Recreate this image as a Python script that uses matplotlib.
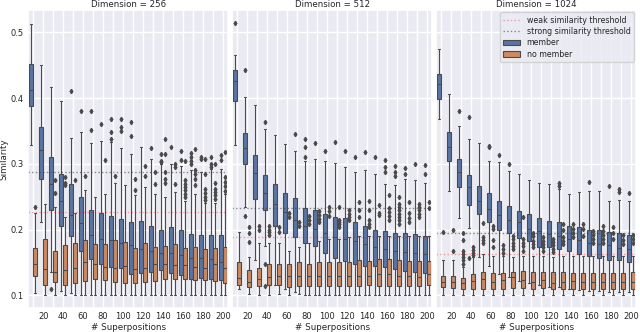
import matplotlib
matplotlib.use("Agg")
import numpy as np
import matplotlib.pyplot as plt
from matplotlib.lines import Line2D
from matplotlib.patches import Patch
import seaborn as sns

n_sup = list(range(10, 210, 10))
tick_labels = [str(n) if n % 20 == 0 else "" for n in n_sup]
dims = [256, 512, 1024]

weak_thr = [0.226, 0.189, 0.163]
strong_thr = [0.288, 0.2335, 0.195]

# ---- dimension 256 ----
m256_hi = [0.513, 0.450, 0.417, 0.395, 0.339, 0.348, 0.332, 0.335, 0.333, 0.324,
           0.315, 0.325, 0.308, 0.299, 0.300, 0.297, 0.290, 0.287, 0.292, 0.292]
m256_q3 = [0.452, 0.356, 0.311, 0.284, 0.269, 0.250, 0.230, 0.225, 0.220, 0.216,
           0.211, 0.213, 0.205, 0.200, 0.204, 0.200, 0.193, 0.191, 0.191, 0.191]
m256_med = [0.413, 0.321, 0.270, 0.244, 0.222, 0.210, 0.192, 0.186, 0.184, 0.179,
            0.176, 0.170, 0.167, 0.164, 0.164, 0.161, 0.157, 0.157, 0.155, 0.151]
m256_q1 = [0.388, 0.277, 0.230, 0.205, 0.190, 0.167, 0.155, 0.148, 0.143, 0.142,
           0.133, 0.134, 0.136, 0.138, 0.134, 0.131, 0.125, 0.126, 0.125, 0.123]
m256_lo = [0.329, 0.212, 0.135, 0.106, 0.104, 0.101, 0.100, 0.100, 0.100, 0.100,
           0.100, 0.100, 0.100, 0.100, 0.100, 0.100, 0.100, 0.100, 0.100, 0.100]
m256_fl = [[], [], [0.109], [], [0.410], [0.381], [0.380, 0.351], [0.361],
           [0.368, 0.348, 0.338], [0.368, 0.356, 0.350], [0.364, 0.342], [],
           [0.324], [0.315, 0.305, 0.303], [0.325], [0.320, 0.306],
           [0.316, 0.310, 0.305, 0.300], [0.310, 0.308], [0.310, 0.300, 0.295],
           [0.313, 0.306]]

n256_hi = [0.225, 0.239, 0.235, 0.219, 0.225, 0.260, 0.249, 0.254, 0.271, 0.267,
           0.253, 0.265, 0.254, 0.249, 0.257, 0.244, 0.254, 0.240, 0.240, 0.254]
n256_q3 = [0.172, 0.186, 0.168, 0.176, 0.180, 0.184, 0.178, 0.178, 0.184, 0.181,
           0.172, 0.179, 0.174, 0.175, 0.178, 0.172, 0.173, 0.170, 0.172, 0.174]
n256_med = [0.148, 0.140, 0.135, 0.138, 0.142, 0.151, 0.147, 0.143, 0.142, 0.145,
            0.140, 0.142, 0.148, 0.148, 0.146, 0.146, 0.143, 0.142, 0.147, 0.142]
n256_q1 = [0.130, 0.116, 0.120, 0.116, 0.119, 0.122, 0.125, 0.123, 0.120, 0.119,
           0.119, 0.120, 0.121, 0.125, 0.125, 0.124, 0.123, 0.123, 0.122, 0.119]
n256_lo = [0.104, 0.101, 0.100, 0.100, 0.101, 0.100, 0.101, 0.101, 0.100, 0.100,
           0.100, 0.100, 0.100, 0.100, 0.100, 0.100, 0.100, 0.100, 0.100, 0.100]
n256_fl = [[0.235], [], [0.276, 0.256], [0.280, 0.271, 0.267], [0.276], [0.282],
           [], [0.306], [0.281], [], [0.277, 0.260], [0.296, 0.281], [0.288, 0.269],
           [0.337, 0.315, 0.287, 0.277, 0.271], [0.299, 0.295, 0.269],
           [0.305, 0.275, 0.270, 0.265, 0.260, 0.254, 0.249],
           [0.322, 0.290, 0.285, 0.277, 0.267],
           [0.308, 0.285, 0.262, 0.256, 0.250, 0.245],
           [0.300, 0.271, 0.262, 0.257, 0.252, 0.247],
           [0.318, 0.280, 0.273, 0.266, 0.259]]

# ---- dimension 512 ----
m512_hi = [0.466, 0.402, 0.390, 0.353, 0.344, 0.330, 0.319, 0.304, 0.308, 0.304,
           0.301, 0.295, 0.288, 0.291, 0.285, 0.270, 0.267, 0.277, 0.276, 0.271]
m512_q3 = [0.443, 0.347, 0.313, 0.283, 0.269, 0.256, 0.248, 0.232, 0.230, 0.223,
           0.219, 0.217, 0.211, 0.205, 0.200, 0.198, 0.195, 0.194, 0.193, 0.190]
m512_med = [0.426, 0.324, 0.286, 0.256, 0.239, 0.227, 0.214, 0.205, 0.201, 0.195,
            0.188, 0.185, 0.182, 0.178, 0.173, 0.171, 0.167, 0.166, 0.165, 0.163]
m512_q1 = [0.396, 0.300, 0.247, 0.229, 0.205, 0.195, 0.188, 0.180, 0.175, 0.165,
           0.157, 0.152, 0.147, 0.145, 0.144, 0.143, 0.140, 0.137, 0.135, 0.134]
m512_lo = [0.329, 0.235, 0.153, 0.175, 0.115, 0.110, 0.105, 0.100, 0.100, 0.100,
           0.100, 0.100, 0.100, 0.100, 0.100, 0.100, 0.100, 0.100, 0.100, 0.100]
m512_fl = [[0.514], [0.443, 0.220], [], [0.363, 0.147, 0.114], [], [], [0.346],
           [0.338, 0.326, 0.310], [0.332], [0.319], [0.333], [0.320], [0.310],
           [0.318], [0.310], [0.306, 0.295, 0.288], [0.297, 0.288, 0.282],
           [0.293, 0.285], [0.300], [0.298, 0.284]]

n512_hi = [0.196, 0.158, 0.179, 0.180, 0.180, 0.168, 0.173, 0.180, 0.182, 0.185,
           0.185, 0.188, 0.190, 0.190, 0.190, 0.190, 0.190, 0.190, 0.190, 0.190]
n512_q3 = [0.151, 0.139, 0.141, 0.147, 0.147, 0.147, 0.150, 0.148, 0.151, 0.151,
           0.150, 0.150, 0.154, 0.152, 0.155, 0.155, 0.154, 0.152, 0.152, 0.152]
n512_med = [0.127, 0.120, 0.125, 0.128, 0.130, 0.129, 0.129, 0.129, 0.129, 0.130,
            0.130, 0.130, 0.130, 0.129, 0.133, 0.133, 0.130, 0.130, 0.128, 0.133]
n512_q1 = [0.116, 0.113, 0.114, 0.116, 0.115, 0.113, 0.114, 0.114, 0.114, 0.114,
           0.114, 0.114, 0.114, 0.115, 0.114, 0.114, 0.114, 0.114, 0.114, 0.115]
n512_lo = [0.109, 0.102, 0.100, 0.100, 0.102, 0.100, 0.102, 0.100, 0.100, 0.100,
           0.100, 0.100, 0.100, 0.100, 0.100, 0.100, 0.100, 0.100, 0.100, 0.100]
n512_fl = [[], [0.204, 0.195, 0.181], [0.206, 0.200], [0.205, 0.200, 0.196, 0.192],
           [0.204, 0.197], [0.225, 0.219], [0.212, 0.205], [0.221, 0.215, 0.209],
           [0.228, 0.222, 0.216, 0.211], [0.235, 0.228, 0.221],
           [0.234, 0.215, 0.211, 0.208, 0.204], [0.229, 0.224, 0.219, 0.214],
           [0.242, 0.229, 0.219], [0.243, 0.230, 0.215, 0.209, 0.204],
           [0.237, 0.225, 0.222], [0.252, 0.232, 0.226, 0.220, 0.214],
           [0.249, 0.239, 0.234, 0.229, 0.224, 0.219, 0.214, 0.209],
           [0.242, 0.225, 0.218, 0.211], [0.239, 0.234, 0.229, 0.224, 0.219],
           [0.242, 0.232]]

# ---- dimension 1024 ----
m1024_hi = [0.475, 0.406, 0.357, 0.338, 0.331, 0.304, 0.302, 0.289, 0.284, 0.275,
            0.271, 0.270, 0.262, 0.254, 0.257, 0.258, 0.259, 0.244, 0.245, 0.244]
m1024_q3 = [0.437, 0.349, 0.307, 0.283, 0.266, 0.255, 0.244, 0.236, 0.228, 0.223,
            0.218, 0.213, 0.211, 0.205, 0.204, 0.200, 0.199, 0.197, 0.195, 0.191]
m1024_med = [0.422, 0.326, 0.288, 0.264, 0.244, 0.231, 0.222, 0.214, 0.211, 0.201,
             0.198, 0.193, 0.190, 0.186, 0.184, 0.180, 0.178, 0.176, 0.172, 0.171]
m1024_q1 = [0.398, 0.305, 0.264, 0.238, 0.223, 0.211, 0.200, 0.194, 0.187, 0.182,
            0.174, 0.174, 0.170, 0.167, 0.163, 0.159, 0.157, 0.154, 0.153, 0.151]
m1024_lo = [0.368, 0.258, 0.218, 0.203, 0.158, 0.145, 0.133, 0.128, 0.122, 0.118,
            0.115, 0.113, 0.112, 0.110, 0.108, 0.107, 0.106, 0.105, 0.105, 0.105]
m1024_fl = [[], [], [0.381], [0.371, 0.157], [], [0.327, 0.325], [0.313], [0.299],
            [], [], [], [], [0.271, 0.266], [], [], [0.272], [], [0.266],
            [0.261, 0.257], [0.255]]

n1024_hi = [0.153, 0.153, 0.143, 0.158, 0.163, 0.160, 0.160, 0.158, 0.160, 0.160,
            0.160, 0.158, 0.160, 0.160, 0.160, 0.160, 0.160, 0.160, 0.160, 0.160]
n1024_q3 = [0.130, 0.129, 0.127, 0.132, 0.136, 0.134, 0.134, 0.136, 0.137, 0.136,
            0.136, 0.135, 0.136, 0.134, 0.134, 0.134, 0.134, 0.134, 0.134, 0.136]
n1024_med = [0.120, 0.120, 0.119, 0.121, 0.124, 0.120, 0.123, 0.128, 0.123, 0.120,
             0.123, 0.119, 0.120, 0.121, 0.120, 0.120, 0.120, 0.120, 0.120, 0.120]
n1024_q1 = [0.113, 0.111, 0.110, 0.109, 0.110, 0.110, 0.110, 0.111, 0.111, 0.110,
            0.111, 0.109, 0.110, 0.110, 0.110, 0.110, 0.110, 0.110, 0.110, 0.110]
n1024_lo = [0.100] * 20
n1024_fl = [[0.197], [0.200, 0.167], [0.195, 0.184, 0.168, 0.163, 0.158, 0.153, 0.148],
            [0.174, 0.169, 0.165, 0.161], [0.210, 0.189, 0.184, 0.180],
            [0.206, 0.201, 0.184, 0.173], [0.176, 0.170, 0.165],
            [0.190, 0.185, 0.180, 0.175, 0.170], [0.219, 0.186, 0.180, 0.175, 0.168],
            [0.195, 0.190, 0.183, 0.178, 0.173], [0.188, 0.183, 0.178, 0.173, 0.168],
            [0.186, 0.181, 0.176, 0.171, 0.166], [0.209, 0.200, 0.189, 0.183, 0.178],
            [0.209, 0.201, 0.194, 0.188], [0.209, 0.201, 0.190],
            [0.198, 0.192, 0.186, 0.180], [0.205, 0.198, 0.192, 0.186, 0.180],
            [0.204, 0.194, 0.185], [0.191, 0.184, 0.178], [0.192, 0.186, 0.180]]


def box_stats(lo, q1, med, q3, hi, fl):
    return [dict(whislo=a, q1=b, med=c, q3=d, whishi=e, fliers=f)
            for a, b, c, d, e, f in zip(lo, q1, med, q3, hi, fl)]


member = [box_stats(m256_lo, m256_q1, m256_med, m256_q3, m256_hi, m256_fl),
          box_stats(m512_lo, m512_q1, m512_med, m512_q3, m512_hi, m512_fl),
          box_stats(m1024_lo, m1024_q1, m1024_med, m1024_q3, m1024_hi, m1024_fl)]
no_member = [box_stats(n256_lo, n256_q1, n256_med, n256_q3, n256_hi, n256_fl),
             box_stats(n512_lo, n512_q1, n512_med, n512_q3, n512_hi, n512_fl),
             box_stats(n1024_lo, n1024_q1, n1024_med, n1024_q3, n1024_hi, n1024_fl)]

sns.set_theme(style="darkgrid")
deep = sns.color_palette("deep")
c_mem = sns.desaturate(deep[0], 0.75)
c_non = sns.desaturate(deep[1], 0.75)
gray = "#4b4b4b"
lw = 0.8

fig, axes = plt.subplots(1, 3, figsize=(6.4, 3.32), dpi=100, sharey=True)
fig.subplots_adjust(left=0.044, right=0.994, bottom=0.073, top=0.97, wspace=0.02)

x = np.arange(len(n_sup))
for i, ax in enumerate(axes):
    for stats, pos, col in ((member[i], x - 0.2, c_mem), (no_member[i], x + 0.2, c_non)):
        ax.bxp(stats, positions=pos, widths=0.392, patch_artist=True,
               boxprops=dict(facecolor=col, edgecolor=gray, linewidth=lw),
               whiskerprops=dict(color=gray, linewidth=lw),
               capprops=dict(color=gray, linewidth=lw),
               medianprops=dict(color=gray, linewidth=lw),
               flierprops=dict(marker="d", markerfacecolor=gray,
                               markeredgecolor=gray, markersize=2.2))
    ax.axhline(weak_thr[i], color="red", ls=":", lw=1.0, alpha=0.35)
    ax.axhline(strong_thr[i], color="0.25", ls=":", lw=1.0, alpha=0.6)
    ax.set_xticks(x)
    ax.set_xticklabels(tick_labels)
    ax.set_xlim(-0.5, len(n_sup) - 0.5)
    ax.set_ylim(0.081, 0.534)
    ax.set_yticks([0.1, 0.2, 0.3, 0.4, 0.5])
    ax.tick_params(labelsize=6, pad=3, length=0)
    ax.set_xlabel("# Superpositions", fontsize=6.3, labelpad=1.5)
    ax.set_title(f"Dimension = {dims[i]}", fontsize=6.2, pad=2)

axes[0].set_ylabel("Similarity", fontsize=6.3, labelpad=1.5)

handles = [Line2D([], [], color="red", ls=":", lw=1.0, alpha=0.35),
           Line2D([], [], color="0.25", ls=":", lw=1.0, alpha=0.6),
           Patch(facecolor=c_mem, edgecolor=gray, linewidth=lw),
           Patch(facecolor=c_non, edgecolor=gray, linewidth=lw)]
labels = ["weak similarity threshold", "strong similarity threshold",
          "member", "no member"]
axes[2].legend(handles, labels, loc="upper right", fontsize=5.7,
               borderaxespad=0.3, handlelength=2.2, labelspacing=0.3)

fig.savefig("out.png", dpi=100)
